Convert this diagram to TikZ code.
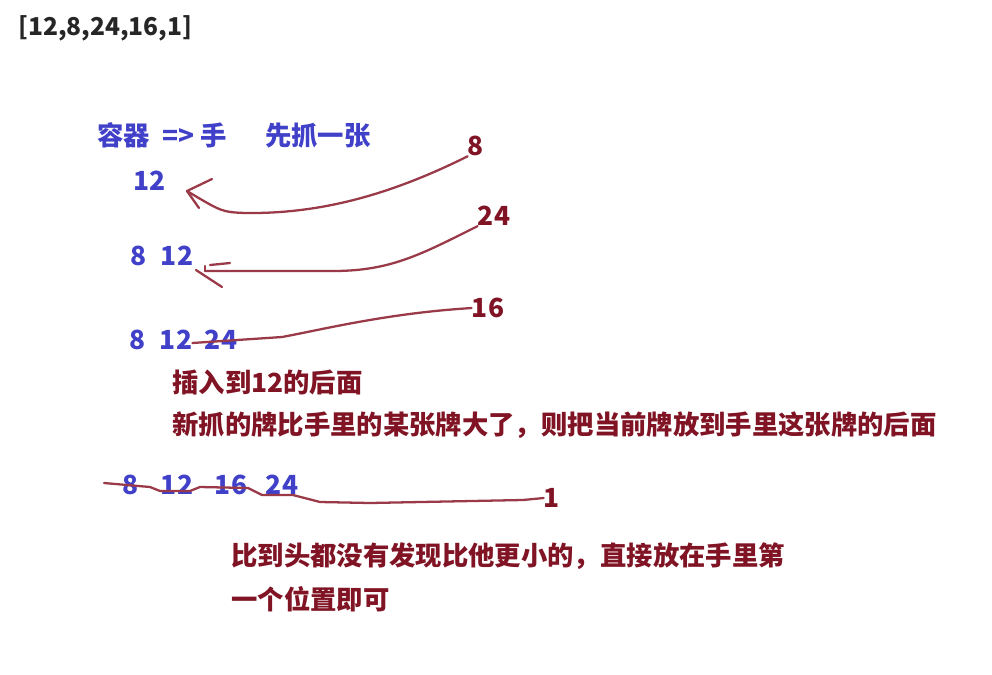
\documentclass[tikz,border=0pt]{standalone}
\usepackage{fontspec}
\setmainfont{Noto Sans CJK SC}
\usepackage{tikz}
\usetikzlibrary{positioning}
\definecolor{handblue}{HTML}{4040C8}
\definecolor{handred}{HTML}{801424}
\definecolor{inkred}{HTML}{9A3A48}
\tikzset{
    sort title/.style={font=\fontsize{14}{17}\selectfont\bfseries, text=black!85, inner sep=0pt, anchor=west},
    sort hand/.style={font=\fontsize{15}{18}\selectfont\bfseries, text=handblue, inner sep=0pt},
    sort card/.style={font=\fontsize{15}{18}\selectfont\bfseries, text=handred, inner sep=0pt},
    sort note/.style={font=\fontsize{15}{18}\selectfont\bfseries, text=handred, inner sep=0pt, anchor=west},
    sort ink/.style={draw=inkred, line width=1.3pt, line cap=round, line join=round}
}
\begin{document}
\begin{tikzpicture}[x=0.02cm, y=-0.02cm]
\useasboundingbox (0,0) rectangle (992,674);
% input list
\node[sort title] (arr) at (18,28) {[12,8,24,16,1]};
\node[sort hand, anchor=west] (cap) at (97,135) {容器\ \ => 手\quad\ \ 先抓一张};

% first card in hand, 8 comes in
\node[sort hand] (h1) at (150,181) {12};
\node[sort card] (c8) at (476,146) {8};
\coordinate (tip1) at (187,191);
\draw[sort ink] (c8.south west) .. controls (390,195) and (320,214) .. (245,213)
    .. controls (222,212) .. (tip1);
\draw[sort ink] (tip1) -- (212,179);
\draw[sort ink] (tip1) -- (199,208);

% 24 comes in
\node[sort hand] (h2a) at (139,256) {8};
\node[sort hand] (h2b) at (177,256) {12};
\node[sort card] (c24) at (494,216) {24};
\coordinate (tip2) at (205,271);
\draw[sort ink] (c24.south west) .. controls (420,255) and (390,271) .. (333,271) -- (tip2);
\draw[sort ink] (tip2) -- ++(0,-5);
\draw[sort ink] (210,265) -- (230,263);
\draw[sort ink] (196,270) -- (222,287);

% 16 comes in
\node[sort hand] (h3a) at (138,340) {8};
\node[sort hand] (h3b) at (176,340) {12};
\node[sort hand] (h3c) at (221,340) {24};
\node[sort card] (c16) at (488,308) {16};
\draw[sort ink] (c16.west) -- ++(-14,1) .. controls (380,315) and (320,330) .. (282,337)
    -- (h3b.east |- 0,343);

\node[sort note] (ins) at (172,382) {插入到12的后面};
\node[sort note] (rule) at (172,425) {新抓的牌比手里的某张牌大了，则把当前牌放到手里这张牌的后面};

% 1 comes in
\node[sort hand] (h4a) at (131,485) {8};
\node[sort hand] (h4b) at (177,485) {12};
\node[sort hand] (h4c) at (231,485) {16};
\node[sort hand] (h4d) at (282,485) {24};
\node[sort card] (c1) at (552,498) {1};
\coordinate (lend) at (104,483);
\draw[sort ink] (c1.west) -- (523,500) -- (370,503) -- (320,502) -- (293,495) -- (262,495)
    -- (248,488) -- (200,487) -- (190,491) -- (160,491) -- (150,487) -- (lend);

\node[sort note] (end1) at (231,556) {比到头都没有发现比他更小的，直接放在手里第};
\node[sort note] (end2) at (231,599) {一个位置即可};
\end{tikzpicture}
\end{document}
